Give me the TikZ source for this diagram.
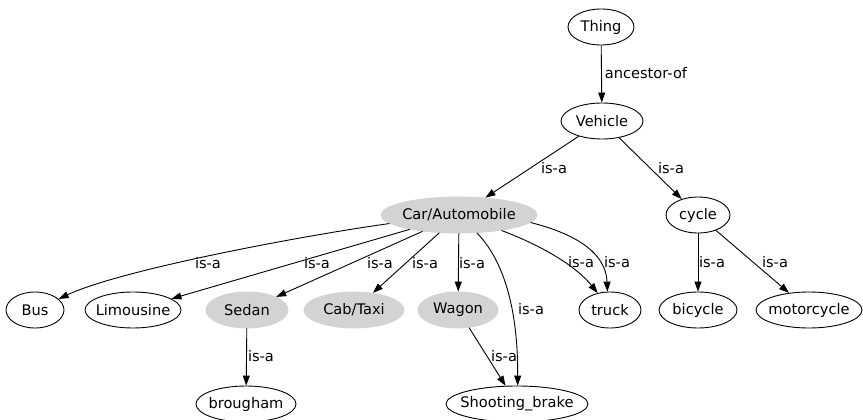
\documentclass[tikz,border=0pt]{standalone}
\usepackage{fontspec}
\setmainfont{DejaVu Sans}
\usetikzlibrary{arrows.meta,shapes.geometric}
\definecolor{nodegrey}{HTML}{D3D3D3}
\begin{document}
\begin{tikzpicture}[x=1pt,y=-1pt,
  every node/.style={font=\fontsize{14.6}{17}\selectfont},
  % the ellipse size is fixed by minimum width/height, not by the text
  shell/.style={ellipse, inner sep=0pt, minimum height=36pt, line width=0.9pt,
    execute at begin node={\hbox to 0pt\bgroup\hss},
    execute at end node={\hss\egroup}},
  cls/.style={shell, draw=black},
  core/.style={shell, fill=nodegrey, draw=nodegrey},
  rel/.style={draw=black, line width=0.9pt, -{Triangle[length=10pt,width=7pt]}},
  lbl/.style={inner sep=0pt}]
\useasboundingbox (0,0) rectangle (863,420);

% classes
\node[cls, minimum width=66pt]  (thing)    at (601,27)  {Thing};
\node[cls, minimum width=82pt]  (vehicle)  at (602,121) {Vehicle};
\node[core, minimum width=156pt] (car)     at (459,215) {Car/Automobile};
\node[cls, minimum width=64pt]  (cycle)    at (698,215) {cycle};
\node[cls, minimum width=58pt]  (bus)      at (35,310)  {Bus};
\node[cls, minimum width=96pt]  (limo)     at (133,310) {Limousine};
\node[core, minimum width=82pt] (sedan)    at (247,310) {Sedan};
\node[core, minimum width=100pt] (cab)     at (354,310) {Cab/Taxi};
\node[core, minimum width=80pt] (wagon)    at (458,310) {Wagon};
\node[cls, minimum width=62pt]  (truck)    at (610,310) {truck};
\node[cls, minimum width=78pt]  (bicycle)  at (698,310) {bicycle};
\node[cls, minimum width=106pt] (motor)    at (809,310) {motorcycle};
\node[cls, minimum width=100pt] (brougham) at (246,404) {brougham};
\node[cls, minimum width=142pt] (shoot)    at (517,404) {Shooting\_brake};

% relations
\draw[rel] (thing) -- (vehicle) node[lbl] at (646,73) {ancestor-of};
\draw[rel] (vehicle) -- (car) node[lbl] at (554,168) {is-a};
\draw[rel] (vehicle) -- (cycle) node[lbl] at (671,168) {is-a};

\draw[rel] (car.187) .. controls (300,236) and (120,270) .. (bus.25)
  node[lbl] at (208,263) {is-a};
\draw[rel] (car) -- (limo) node[lbl] at (317,263) {is-a};
\draw[rel] (car) -- (sedan) node[lbl] at (380,263) {is-a};
\draw[rel] (car) -- (cab) node[lbl] at (425,263) {is-a};
\draw[rel] (car) -- (wagon) node[lbl] at (472,263) {is-a};
\draw[rel] (car.-45) .. controls (508,265) and (518,320) .. (shoot.88)
  node[lbl] at (531,309) {is-a};
\draw[rel] (car.-20) .. controls (540,245) and (575,265) .. (truck.126)
  node[lbl] at (581,262) {is-a};
\draw[rel] (car.-6) .. controls (580,235) and (606,255) .. (truck.98)
  node[lbl] at (617,262) {is-a};

\draw[rel] (wagon) -- (shoot) node[lbl] at (504,356) {is-a};
\draw[rel] (sedan) -- (brougham) node[lbl] at (261,356) {is-a};
\draw[rel] (cycle) -- (bicycle) node[lbl] at (712,262) {is-a};
\draw[rel] (cycle) -- (motor) node[lbl] at (775,262) {is-a};
\end{tikzpicture}
\end{document}
